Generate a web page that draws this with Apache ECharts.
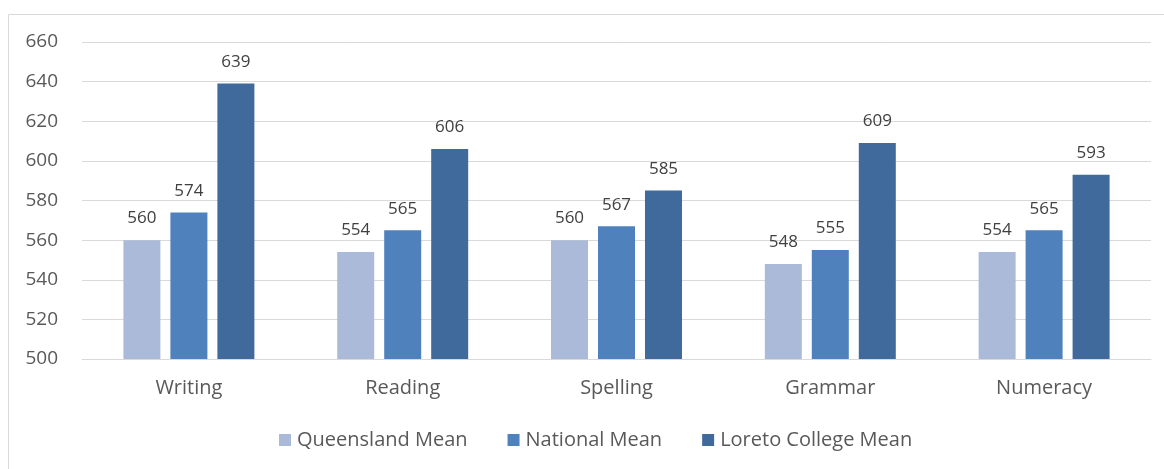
<!DOCTYPE html>
<html>
<head>
<meta charset="utf-8">
<script src="https://cdn.jsdelivr.net/npm/echarts@6/dist/echarts.min.js"></script>
<style>
html,body{margin:0;padding:0;background:#fff;}
#chart{width:1164px;height:469px;}
</style>
</head>
<body>
<div id="chart"></div>
<script>
// Mean scores by test domain
const categories = ['Writing', 'Reading', 'Spelling', 'Grammar', 'Numeracy'];
const queenslandMean = [560, 554, 560, 548, 554];
const nationalMean = [574, 565, 567, 555, 565];
const loretoMean = [639, 606, 585, 609, 593];
const seriesNames = ['Queensland Mean', 'National Mean', 'Loreto College Mean'];
const seriesColors = ['#abbad8', '#4f81bd', '#3f6a9b'];

const font = '"Open Sans", "Noto Sans", sans-serif';
const chart = echarts.init(document.getElementById('chart'), null, {renderer: 'canvas'});

function barSeries(name, data, color) {
  return {
    name: name,
    type: 'bar',
    data: data,
    barWidth: 37,
    barGap: '27%',
    itemStyle: {color: color},
    label: {
      show: true,
      position: 'top',
      distance: 13,
      color: '#404040',
      fontFamily: font,
      fontSize: 17
    }
  };
}

chart.setOption({
  animation: false,
  graphic: [{
    type: 'rect',
    shape: {x: 8.5, y: 14.5, width: 1200, height: 500},
    style: {fill: 'none', stroke: '#d9d9d9', lineWidth: 1},
    silent: true
  }],
  grid: {left: 82, right: 13, top: 42, bottom: 110},
  legend: {
    top: 425,
    left: 274,
    itemWidth: 12,
    itemHeight: 12,
    itemGap: 40,
    icon: 'rect',
    textStyle: {color: '#595959', fontFamily: font, fontSize: 20, padding: [0, 0, 0, 1]},
    data: seriesNames
  },
  xAxis: {
    type: 'category',
    data: categories,
    axisLine: {lineStyle: {color: '#d9d9d9', width: 1}},
    axisTick: {show: false},
    axisLabel: {color: '#595959', fontFamily: font, fontSize: 20, margin: 19}
  },
  yAxis: {
    type: 'value',
    min: 500,
    max: 660,
    interval: 20,
    axisLine: {show: false},
    axisTick: {show: false},
    splitLine: {lineStyle: {color: '#d9d9d9', width: 1}},
    axisLabel: {color: '#595959', fontFamily: font, fontSize: 19, margin: 24}
  },
  series: [
    barSeries(seriesNames[0], queenslandMean, seriesColors[0]),
    barSeries(seriesNames[1], nationalMean, seriesColors[1]),
    barSeries(seriesNames[2], loretoMean, seriesColors[2])
  ]
});
</script>
</body>
</html>
